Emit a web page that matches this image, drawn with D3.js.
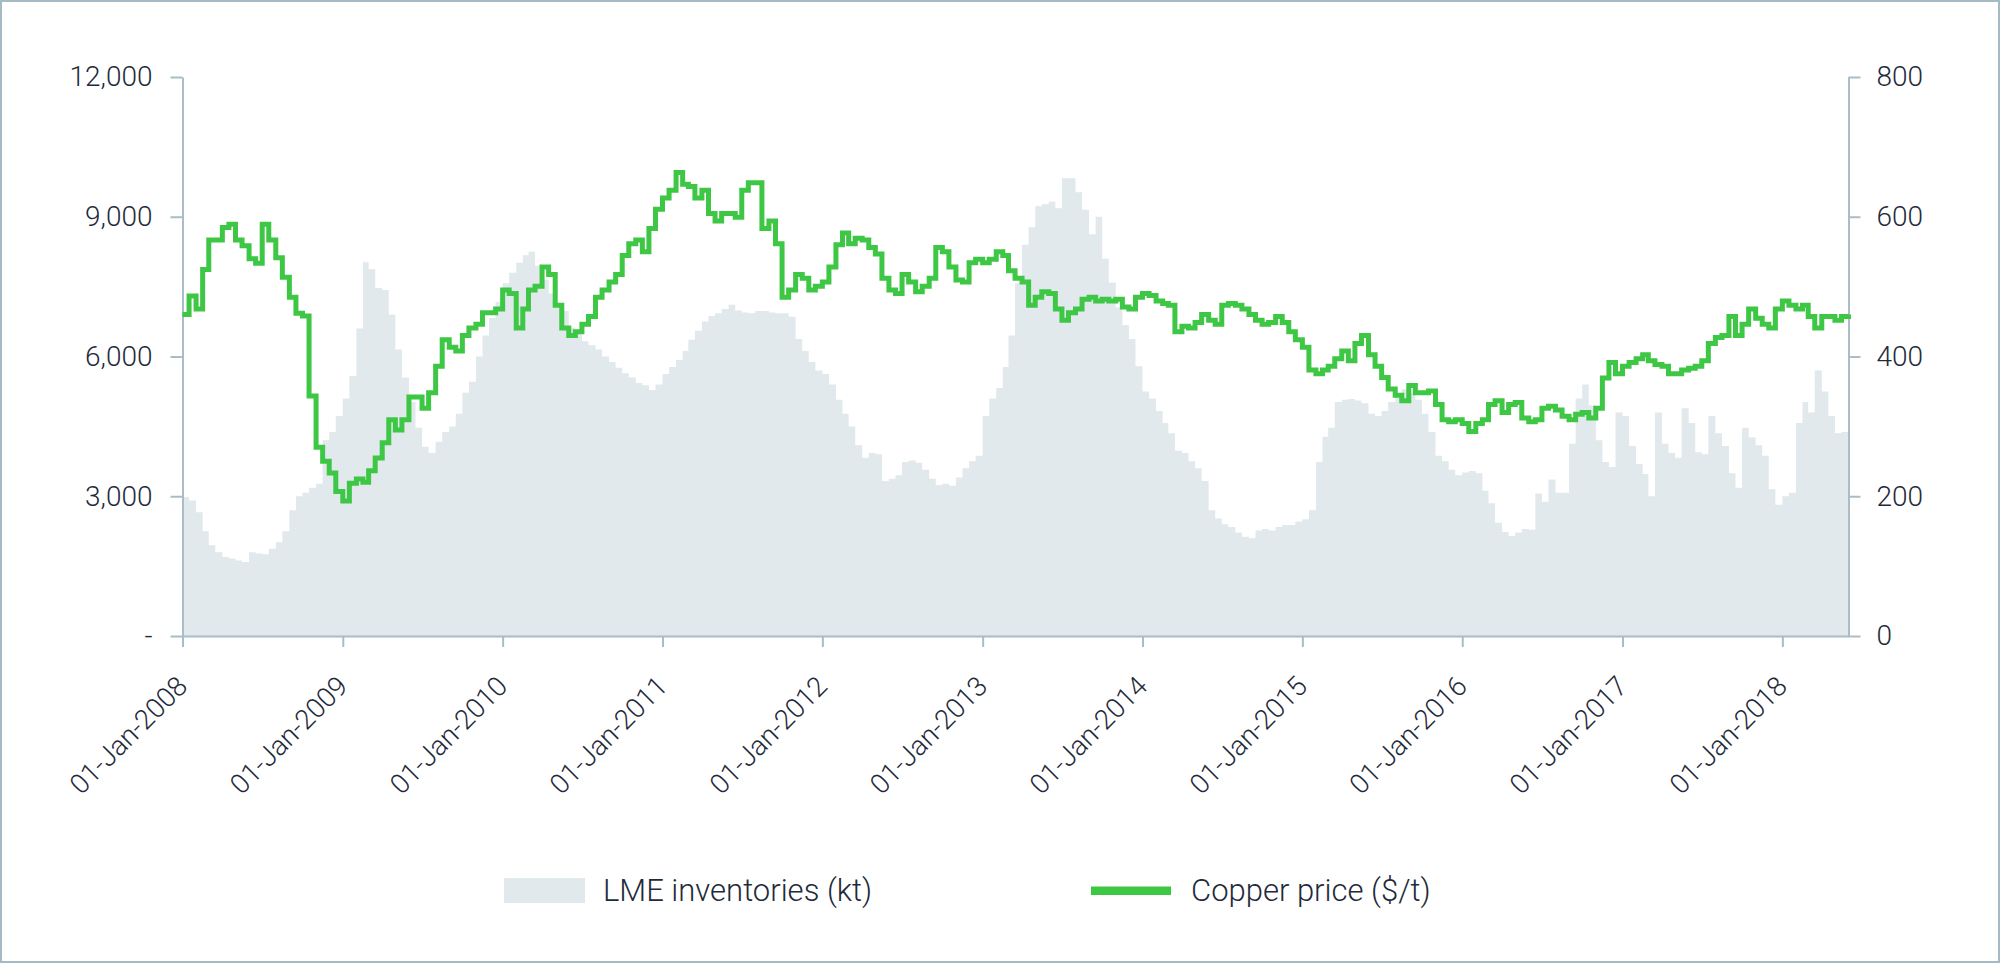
<!DOCTYPE html>
<html>
<head>
<meta charset="utf-8">
<script src="https://cdn.jsdelivr.net/npm/d3@7"></script>
<style>
  html, body { margin: 0; padding: 0; background: #ffffff; }
  svg { display: block; }
  text { font-family: Roboto, "Open Sans", sans-serif; font-weight: 300; fill: #1e2a3a; }
</style>
</head>
<body>
<svg id="chart" width="2000" height="963"></svg>
<script>
// ---------- DATA (semi-monthly readings: 1st and 16th of each month, Jan-2008 .. Jun-2018) ----------
const startYear = 2008;
const pointCount = 251;

const copperPrice = [
  // 2008
  6900, 7300, 7020, 7870, 8500, 8500, 8770, 8840, 8500, 8380, 8100, 8000,
  8840, 8500, 8120, 7700, 7270, 6930, 6870, 5150, 4050, 3750, 3500, 3100,
  // 2009
  2900, 3280, 3370, 3300, 3550, 3820, 4150, 4640, 4420, 4640, 5130, 5130,
  4890, 5220, 5790, 6360, 6200, 6120, 6450, 6610, 6690, 6940, 6940, 7020,
  // 2010
  7430, 7350, 6610, 7020, 7430, 7510, 7920, 7760, 7100, 6610, 6450, 6530,
  6690, 6860, 7270, 7430, 7600, 7760, 8170, 8420, 8500, 8250, 8750, 9160,
  // 2011
  9400, 9570, 9950, 9700, 9650, 9400, 9570, 9070, 8910, 9070, 9070, 8990,
  9570, 9730, 9730, 8750, 8910, 8420, 7270, 7430, 7760, 7680, 7430, 7510,
  // 2012
  7600, 7920, 8400, 8650, 8420, 8540, 8500, 8340, 8200, 7680, 7430, 7350,
  7760, 7600, 7390, 7510, 7680, 8340, 8250, 7920, 7640, 7600, 8010, 8090,
  // 2013
  8010, 8090, 8250, 8170, 7840, 7680, 7600, 7100, 7270, 7390, 7350, 7020,
  6780, 6940, 7020, 7230, 7270, 7190, 7230, 7190, 7230, 7060, 7020, 7270,
  // 2014
  7350, 7310, 7190, 7140, 7100, 6530, 6650, 6610, 6730, 6900, 6780, 6690,
  7100, 7140, 7100, 7020, 6900, 6780, 6690, 6730, 6860, 6730, 6530, 6360,
  // 2015
  6200, 5710, 5630, 5710, 5790, 5950, 6120, 5910, 6280, 6450, 6040, 5790,
  5550, 5300, 5170, 5050, 5380, 5220, 5220, 5260, 4970, 4640, 4600, 4640,
  // 2016
  4560, 4390, 4560, 4640, 4970, 5050, 4800, 4970, 5010, 4680, 4600, 4640,
  4890, 4930, 4850, 4720, 4640, 4760, 4800, 4680, 4890, 5540, 5870, 5630,
  // 2017
  5790, 5870, 5950, 6040, 5910, 5830, 5790, 5630, 5630, 5710, 5750, 5790,
  5910, 6280, 6410, 6450, 6860, 6450, 6690, 7020, 6820, 6690, 6610, 7020,
  // 2018
  7190, 7100, 7020, 7100, 6860, 6610, 6860, 6860, 6780, 6860, 6900
];

const lmeInventories = [
  // 2008
  199, 194, 177, 150, 130, 120, 113, 111, 108, 106, 120, 118,
  117, 125, 134, 150, 180, 200, 205, 212, 218, 280, 292, 315,
  // 2009
  340, 372, 440, 535, 525, 498, 495, 460, 410, 370, 335, 298,
  271, 262, 278, 292, 300, 318, 348, 364, 400, 430, 455, 478,
  // 2010
  505, 520, 534, 545, 550, 530, 510, 490, 475, 465, 441, 432,
  422, 416, 410, 400, 392, 384, 376, 370, 362, 359, 352, 360,
  // 2011
  375, 385, 395, 408, 424, 437, 450, 458, 462, 468, 474, 466,
  463, 462, 465, 465, 463, 462, 462, 457, 425, 408, 392, 380,
  // 2012
  375, 360, 338, 318, 300, 273, 255, 262, 260, 222, 225, 230,
  249, 251, 248, 238, 225, 216, 218, 215, 227, 240, 250, 258,
  // 2013
  315, 340, 355, 385, 430, 505, 560, 585, 615, 618, 622, 612,
  655, 655, 635, 610, 575, 600, 540, 506, 470, 445, 425, 386,
  // 2014
  350, 340, 322, 305, 290, 265, 262, 250, 240, 222, 180, 168,
  160, 156, 148, 142, 140, 151, 153, 151, 156, 159, 159, 164,
  // 2015
  167, 180, 249, 285, 298, 335, 338, 339, 337, 333, 318, 315,
  322, 335, 345, 353, 348, 338, 318, 292, 258, 250, 238, 230,
  // 2016
  234, 236, 233, 208, 190, 162, 149, 143, 148, 153, 152, 204,
  192, 224, 205, 205, 275, 340, 360, 330, 280, 249, 242, 320,
  // 2017
  315, 272, 246, 232, 200, 320, 275, 262, 255, 326, 305, 263,
  260, 315, 290, 272, 233, 212, 298, 284, 273, 258, 210, 188,
  // 2018
  200, 205, 305, 335, 320, 380, 350, 315, 290, 292, 292
];

const leftTicks = [0, 3000, 6000, 9000, 12000];
const rightTicks = [0, 200, 400, 600, 800];
const legendLabels = ["LME inventories (kt)", "Copper price ($/t)"];

// semi-monthly dates (category axis values)
const dates = [];
for (let y = startYear; dates.length < pointCount; y++) {
  for (let m = 0; m < 12 && dates.length < pointCount; m++) {
    for (const d of [1, 16]) {
      if (dates.length < pointCount) dates.push(new Date(Date.UTC(y, m, d)));
    }
  }
}
const rows = dates.map((d, i) => ({ date: d, price: copperPrice[i], inv: lmeInventories[i] }));

// ---------- LAYOUT ----------
const X0 = 182.5, X1 = 1848.5, YT = 77, YB = 636;
const axisColor = "#a8bdc7";
const areaColor = "#e1e9ec";
const lineColor = "#3ec645";

const svg = d3.select("#chart");

svg.append("rect")
  .attr("x", 1).attr("y", 1).attr("width", 1998).attr("height", 961)
  .attr("fill", "#ffffff").attr("stroke", "#a5bac4").attr("stroke-width", 2);

const x = d3.scaleUtc().domain([dates[0], dates[dates.length - 1]]).range([X0, X1]);
const yL = d3.scaleLinear().domain([0, 12000]).range([YB, YT]);
const yR = d3.scaleLinear().domain([0, 800]).range([YB, YT]);

// area (right axis)
svg.append("path")
  .datum(rows)
  .attr("fill", areaColor)
  .attr("d", d3.area().curve(d3.curveStepAfter)
    .x(d => x(d.date)).y0(yR(0)).y1(d => yR(d.inv)));

// axes
function styleAxis(g) {
  g.selectAll("path.domain").attr("stroke", axisColor).attr("stroke-width", 2);
  g.selectAll(".tick line").attr("stroke", axisColor).attr("stroke-width", 2);
  g.selectAll(".tick text").attr("fill", "#1e2a3a")
    .style("font-family", "Roboto, 'Open Sans', sans-serif").style("font-weight", 300);
}

const gL = svg.append("g").attr("transform", `translate(${X0},0)`)
  .call(d3.axisLeft(yL).tickValues(leftTicks).tickSize(12).tickSizeOuter(0).tickPadding(18)
    .tickFormat(d => d === 0 ? "-" : d3.format(",")(d)));
styleAxis(gL);
gL.selectAll(".tick text").attr("font-size", 28);
gL.selectAll(".tick text").filter(d => d === 0).attr("fill", "#8a9ba5");

const gR = svg.append("g").attr("transform", `translate(${X1},0)`)
  .call(d3.axisRight(yR).tickValues(rightTicks).tickSize(12).tickSizeOuter(0).tickPadding(16)
    .tickFormat(d3.format(",")));
styleAxis(gR);
gR.selectAll(".tick text").attr("font-size", 28);

const gX = svg.append("g").attr("transform", `translate(0,${YB})`)
  .call(d3.axisBottom(x).ticks(d3.utcYear.every(1)).tickSize(11).tickSizeOuter(0)
    .tickFormat(d3.utcFormat("%d-%b-%Y")));
styleAxis(gX);
gX.selectAll(".tick text")
  .attr("font-size", 27.5)
  .attr("text-anchor", "end")
  .attr("dy", 0).attr("y", 0).attr("x", 0)
  .attr("transform", "translate(6,52) rotate(-45)");

// copper price line (left axis)
svg.append("path")
  .datum(rows)
  .attr("fill", "none")
  .attr("stroke", lineColor)
  .attr("stroke-width", 5)
  .attr("stroke-linejoin", "miter")
  .attr("d", d3.line().curve(d3.curveStepAfter)
    .x(d => x(d.date)).y(d => yL(d.price)));

// legend
const lg = svg.append("g");
lg.append("rect").attr("x", 504).attr("y", 878).attr("width", 81).attr("height", 25).attr("fill", areaColor);
lg.append("text").attr("x", 603).attr("y", 901).attr("font-size", 31).text(legendLabels[0]);
lg.append("rect").attr("x", 1091).attr("y", 886.5).attr("width", 80).attr("height", 8.5).attr("fill", lineColor);
lg.append("text").attr("x", 1191).attr("y", 901).attr("font-size", 31).text(legendLabels[1]);
</script>
</body>
</html>
